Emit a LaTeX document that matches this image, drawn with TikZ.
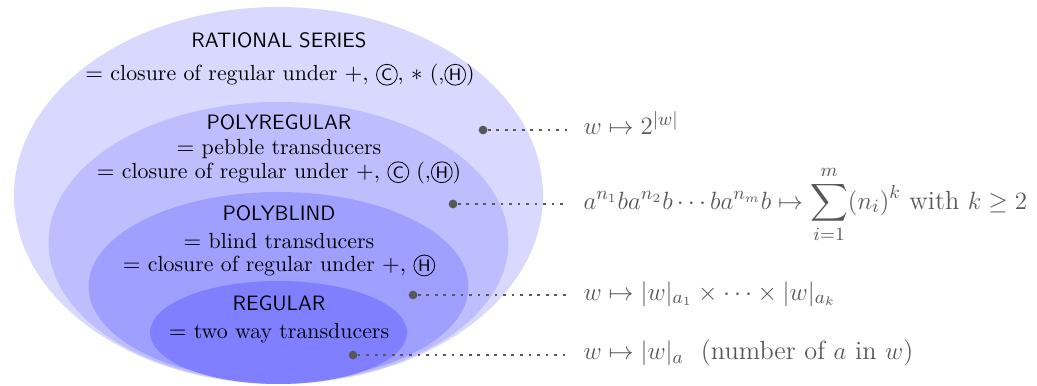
\documentclass[tikz,border=0pt]{standalone}
\usepackage{amsmath,amssymb}
\usepackage{tikz}
\usetikzlibrary{positioning}
\definecolor{ratFill}  {RGB}{217,217,255}
\definecolor{polyFill} {RGB}{190,190,255}
\definecolor{blindFill}{RGB}{159,159,255}
\definecolor{regFill}  {RGB}{127,127,255}
\definecolor{lblGrey}  {RGB}{ 88, 88, 88}
\newcommand{\opc}[1]{\tikz[baseline=(oc.base)]\node[draw,circle,inner sep=0pt,
  minimum size=10pt,font=\sffamily\footnotesize] (oc) {#1};}

\begin{document}
\begin{tikzpicture}[
  title/.style={font=\sffamily},
  desc/.style={align=center,font=\fontsize{10.5pt}{12.6pt}\selectfont},
  spot/.style={circle,fill=lblGrey,inner sep=0pt,minimum size=4.2pt},
  link/.style={draw=lblGrey,line width=1.3pt,dash pattern=on 1.3pt off 2.8pt,
               shorten >=0.25cm},
  lbl/.style={anchor=base west,inner sep=0pt,text=lblGrey,
              font=\fontsize{12.6pt}{15pt}\selectfont}
]
\useasboundingbox (0,0) rectangle (17.5,6.497);

\fill[ratFill]   (4.700,3.198) ellipse [x radius=4.464,y radius=3.181];
\fill[polyFill]  (4.700,2.405) ellipse [x radius=3.881,y radius=2.371];
\fill[blindFill] (4.700,1.662) ellipse [x radius=3.206,y radius=1.595];
\fill[regFill]   (4.700,0.886) ellipse [x radius=2.169,y radius=0.869];

\node[title] (tRat) at (4.708,5.822) {RATIONAL SERIES};
\node[desc]  (dRat) at (4.725,5.232)
  {$=$ closure of regular under $+,$ \opc{C}, $*$ (,\opc{H})};
\node[title] (tPoly) at (4.708,4.438) {POLYREGULAR};
\node[desc]  (dPoly) at (4.708,3.770)
  {$=$ pebble transducers\\[-1.5pt]$=$ closure of regular under $+,$ \opc{C} (,\opc{H})};
\node[title] (tBlind) at (4.708,2.903) {POLYBLIND};
\node[desc]  (dBlind) at (4.708,2.200)
  {$=$ blind transducers\\[-1.5pt]$=$ closure of regular under $+,$ \opc{H}};
\node[title] (tReg) at (4.708,1.384) {REGULAR};
\node[desc]  (dReg) at (4.708,0.878) {$=$ two way transducers};

\node[spot] (s1) at (8.151,4.303) {};
\node[spot] (s2) at (7.645,3.055) {};
\node[spot] (s3) at (6.970,1.519) {};
\node[spot] (s4) at (5.957,0.506) {};

\node[lbl] (l1) at (9.84,4.219) {$w\mapsto 2^{|w|}$};
\node[lbl] (l2) at (9.84,2.970)
  {$a^{n_1}ba^{n_2}b\cdots ba^{n_m}b\mapsto\displaystyle\sum_{i=1}^{m}(n_i)^k$ with $k\geq 2$};
\node[lbl] (l3) at (9.84,1.434) {$w\mapsto|w|_{a_1}\times\cdots\times|w|_{a_k}$};
\node[lbl] (l4) at (9.84,0.422) {$w\mapsto|w|_a$\ \ (number of $a$ in $w$)};

\draw[link] (s1) -- (s1 -| l1.west);
\draw[link] (s2) -- (s2 -| l2.west);
\draw[link] (s3) -- (s3 -| l3.west);
\draw[link] (s4) -- (s4 -| l4.west);
\end{tikzpicture}
\end{document}
